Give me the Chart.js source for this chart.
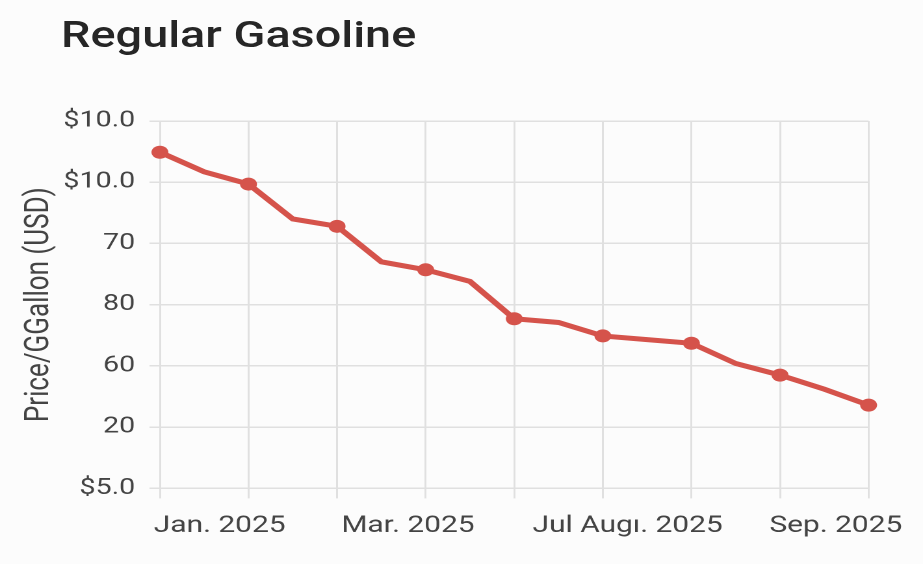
<!DOCTYPE html>
<html>
<head>
<meta charset="utf-8">
<title>Regular Gasoline</title>
<script src="https://cdn.jsdelivr.net/npm/chart.js@4.4.1/dist/chart.umd.min.js"></script>
<style>
  html, body { margin: 0; padding: 0; background: #fcfcfc; }
  body { width: 923px; height: 564px; overflow: hidden; position: relative; }
  /* the original picture is drawn wide, so the whole stage is stretched sideways */
  #stage { position: absolute; left: 0; top: 0; width: 710px; height: 564px; transform: scaleX(1.3); transform-origin: 0 0; }
  #stage h1 { position: absolute; left: 47px; top: 17px; margin: 0; font: 500 36px/36px Roboto, sans-serif; color: #262626; white-space: nowrap; }
  #stage canvas { position: absolute; left: 0; top: 0; }
</style>
</head>
<body>
<div id="stage">
  <h1>Regular Gasoline</h1>
  <canvas id="gasChart"></canvas>
</div>
<script>
// === DATA ===
const categories = ['Jan 1', 'Jan 15', 'Feb 1', 'Feb 15', 'Mar 1', 'Mar 15', 'Apr 1', 'Apr 15', 'May 1',
  'May 15', 'Jun 1', 'Jun 15', 'Jul 1', 'Jul 15', 'Aug 1', 'Aug 15', 'Sep 1'];
const prices = [5.49, 5.17, 4.97, 4.40, 4.28, 3.70, 3.57, 3.38, 2.77, 2.71, 2.49, 2.43, 2.37, 2.04, 1.85, 1.62, 1.36];
const yTickLabels = ['$5.0', '20', '60', '80', '70', '$10.0', '$10.0'];
const xTickLabels = ['Jan. 2025', 'Mar. 2025', 'Jul Augı. 2025', 'Sep. 2025'];

// where the month labels sit along the axis (in category steps)
const xTickSpots = [1.35, 5.6, 10.56, 15.26];

const lineRed = '#d5534b';
const gridGrey = '#e0e0e0';
const inkGrey = '#444';

// === CHART ===
const ctx = document.getElementById('gasChart');
new Chart(ctx, {
  type: 'line',
  data: {
    labels: categories,
    datasets: [{
      label: 'Regular Gasoline',
      data: prices,
      borderColor: lineRed,
      backgroundColor: lineRed,
      borderWidth: 5,
      pointRadius: (c) => (c.dataIndex % 2 === 0 ? 6.5 : 0),
      pointHoverRadius: (c) => (c.dataIndex % 2 === 0 ? 7 : 0),
      pointBorderWidth: 0,
      tension: 0
    }]
  },
  options: {
    responsive: true,
    maintainAspectRatio: false,
    animation: false,
    devicePixelRatio: 2,
    layout: { padding: { top: 121, right: 40, bottom: 10, left: 0 } },
    plugins: {
      legend: { display: false },
      title: { display: false }
    },
    scales: {
      x: {
        type: 'category',
        offset: false,
        border: { display: false },
        grid: {
          color: (c) => (c.index % 2 === 0 ? gridGrey : 'rgba(0,0,0,0)'),
          lineWidth: 1.5,
          tickLength: 10
        },
        ticks: { display: false, autoSkip: false }
      },
      x2: {
        type: 'linear',
        position: 'bottom',
        min: 0,
        max: 16,
        border: { display: false },
        grid: { display: false, drawTicks: false },
        afterBuildTicks: (axis) => {
          axis.ticks = xTickSpots.map((v) => ({ value: v }));
        },
        ticks: {
          autoSkip: false,
          maxRotation: 0,
          padding: 14,
          color: inkGrey,
          font: { family: 'Roboto', size: 23 },
          callback: (v, i) => xTickLabels[i]
        }
      },
      y: {
        min: 0,
        max: 6,
        afterFit: (axis) => { axis.width = 123; },
        border: { display: false },
        grid: { color: gridGrey, lineWidth: 1.5, tickLength: 8 },
        ticks: {
          stepSize: 1,
          padding: 11,
          color: inkGrey,
          font: { family: 'Roboto', size: 22 },
          callback: (v) => yTickLabels[v]
        },
        title: {
          display: true,
          text: 'Price/GGallon (USD)',
          color: inkGrey,
          font: { family: 'Roboto', size: 26 },
          padding: { top: 15, bottom: 0 }
        }
      }
    }
  }
});
</script>
</body>
</html>
